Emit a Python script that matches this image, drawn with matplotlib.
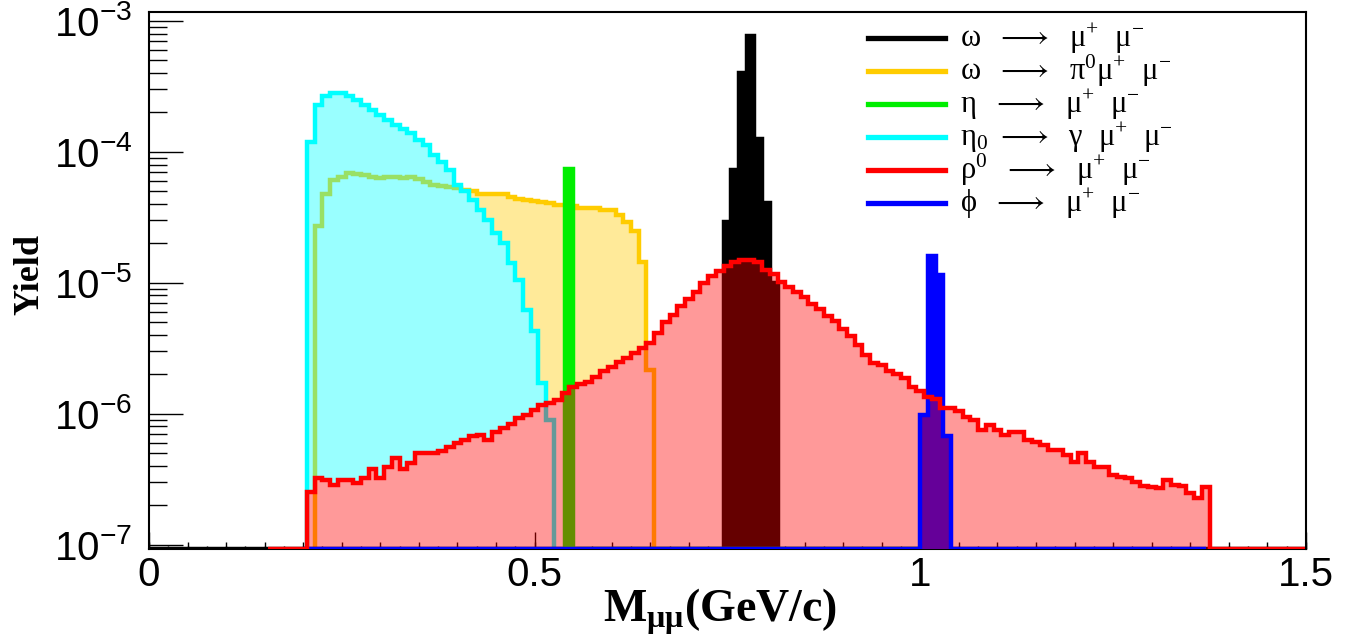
import numpy as np
import matplotlib
matplotlib.use('Agg')
import matplotlib.pyplot as plt

plt.rcParams['mathtext.fontset'] = 'custom'
plt.rcParams['mathtext.rm'] = 'Liberation Serif'
plt.rcParams['mathtext.it'] = 'Liberation Serif'
plt.rcParams['mathtext.bf'] = 'Liberation Serif:bold'
plt.rcParams['mathtext.sf'] = 'Liberation Sans'

BIN = 0.01
YMIN, YMAX = 0.93e-7, 1.17e-3

# each histogram: first bin edge, bin contents, and the axis range it was booked on
omega_mm_start = 0.745
omega_mm = [2.9e-5, 7.3e-5, 4.0e-4, 7.7e-4, 1.26e-4, 4.1e-5, 1.0e-5]
omega_mm_range = (-0.005, 1.505)

omega_pi0_start = 0.215
omega_pi0 = [2.7e-5, 4.8e-5, 6.1e-5, 6.45e-5, 6.9e-5, 6.8e-5, 6.7e-5, 6.45e-5, 6.3e-5, 6.4e-5,
             6.4e-5, 6.3e-5, 6.45e-5, 6.2e-5, 5.9e-5, 5.6e-5, 5.5e-5, 5.4e-5, 5.3e-5, 5.1e-5,
             5.0e-5, 4.8e-5, 4.75e-5, 4.8e-5, 4.8e-5, 4.5e-5, 4.4e-5, 4.3e-5, 4.2e-5, 4.15e-5,
             4.1e-5, 3.9e-5, 3.9e-5, 3.85e-5, 3.75e-5, 3.7e-5, 3.7e-5, 3.6e-5, 3.6e-5, 3.3e-5,
             2.9e-5, 2.5e-5, 1.44e-5, 2.15e-6]
omega_pi0_range = (0.215, 0.655)

eta_mm_start = 0.54
eta_mm = [7.4e-5]
eta_mm_range = (0.54, 1.04)

eta_gamma_start = 0.205
eta_gamma = [1.2e-4, 2.3e-4, 2.65e-4, 2.8e-4, 2.8e-4, 2.67e-4, 2.5e-4, 2.3e-4, 2.1e-4, 1.91e-4,
             1.75e-4, 1.6e-4, 1.5e-4, 1.39e-4, 1.23e-4, 1.13e-4, 9.5e-5, 8.4e-5, 7.3e-5, 5.6e-5,
             5.0e-5, 4.3e-5, 3.6e-5, 3.0e-5, 2.4e-5, 2.0e-5, 1.41e-5, 1.05e-5, 6.2e-6, 4.3e-6,
             1.7e-6, 9e-7]
eta_gamma_range = (0.205, 0.525)

rho_start = 0.205
rho = [2.5e-7, 3.2e-7, 3.1e-7, 2.85e-7, 3.1e-7, 3.1e-7, 2.95e-7, 3.2e-7, 3.8e-7, 3.2e-7,
       3.9e-7, 4.55e-7, 3.8e-7, 4.2e-7, 5.0e-7, 5.0e-7, 5.0e-7, 5.2e-7, 5.6e-7, 6.0e-7,
       6.3e-7, 6.7e-7, 6.9e-7, 6.3e-7, 7.3e-7, 7.75e-7, 8.3e-7, 9.2e-7, 9.8e-7, 1.07e-6,
       1.17e-6, 1.2e-6, 1.28e-6, 1.45e-6, 1.61e-6, 1.68e-6, 1.76e-6, 1.92e-6, 2.1e-6, 2.28e-6,
       2.5e-6, 2.65e-6, 2.9e-6, 3.15e-6, 3.45e-6, 4.1e-6, 5.0e-6, 5.7e-6, 6.6e-6, 7.5e-6,
       8.5e-6, 9.9e-6, 1.12e-5, 1.23e-5, 1.34e-5, 1.43e-5, 1.48e-5, 1.48e-5, 1.43e-5, 1.26e-5,
       1.16e-5, 1.02e-5, 9.3e-6, 8.5e-6, 7.8e-6, 6.9e-6, 6.3e-6, 5.6e-6, 5.1e-6, 4.4e-6,
       3.9e-6, 3.35e-6, 2.8e-6, 2.43e-6, 2.35e-6, 2.1e-6, 2.0e-6, 1.86e-6, 1.6e-6, 1.5e-6,
       1.35e-6, 1.3e-6, 1.1e-6, 1.1e-6, 1.05e-6, 9.5e-7, 8.9e-7, 7.5e-7, 8.2e-7, 7.5e-7,
       6.9e-7, 7.3e-7, 7.3e-7, 6.3e-7, 6.1e-7, 5.75e-7, 5.3e-7, 5.3e-7, 4.85e-7, 4.3e-7,
       5.0e-7, 4.3e-7, 3.9e-7, 3.9e-7, 3.4e-7, 3.3e-7, 3.2e-7, 3.0e-7, 2.8e-7, 2.75e-7,
       2.7e-7, 3.1e-7, 2.85e-7, 2.8e-7, 2.47e-7, 2.26e-7, 2.77e-7]
rho_range = (0.155, 1.505)

phi_start = 1.0
phi = [9.8e-7, 1.6e-5, 1.15e-5, 6.7e-7]
phi_range = (0.2, 1.37)

labels = [r'$\mathrm{\omega}\ \ \longrightarrow\ \ \mathrm{\mu}^{+}\ \ \mathrm{\mu}^{-}$',
          r'$\mathrm{\omega}\ \ \longrightarrow\ \ \mathrm{\pi}^{0}\mathrm{\mu}^{+}\ \ \mathrm{\mu}^{-}$',
          r'$\mathrm{\eta}\ \ \longrightarrow\ \ \mathrm{\mu}^{+}\ \ \mathrm{\mu}^{-}$',
          r'$\mathrm{\eta}_{0}\ \longrightarrow\ \ \mathrm{\gamma}\ \ \mathrm{\mu}^{+}\ \ \mathrm{\mu}^{-}$',
          r'$\mathrm{\rho}^{0}\ \ \longrightarrow\ \ \mathrm{\mu}^{+}\ \ \mathrm{\mu}^{-}$',
          r'$\mathrm{\phi}\ \ \longrightarrow\ \ \mathrm{\mu}^{+}\ \ \mathrm{\mu}^{-}$']
colors = ['black', '#ffcc00', '#00ee00', '#00ffff', '#ff0000', '#0000ff']

xticks = [0, 0.5, 1, 1.5]
yticks = [1e-7, 1e-6, 1e-5, 1e-4, 1e-3]


def binned(start, vals, rng):
    lo, hi = rng
    n0 = int(round((start - lo) / BIN))
    n1 = int(round((hi - start) / BIN)) - len(vals)
    v = np.concatenate([np.zeros(n0), vals, np.zeros(max(n1, 0))])
    e = start - n0 * BIN + BIN * np.arange(len(v) + 1)
    return e, np.where(v > 0, v, YMIN)


def lookup(e, v, x):
    i = np.searchsorted(e, x) - 1
    ok = (i >= 0) & (i < len(v))
    return np.where(ok, v[np.clip(i, 0, len(v) - 1)], YMIN)


e_om, v_om = binned(omega_mm_start, omega_mm, omega_mm_range)
e_op, v_op = binned(omega_pi0_start, omega_pi0, omega_pi0_range)
e_em, v_em = binned(eta_mm_start, eta_mm, eta_mm_range)
e_eg, v_eg = binned(eta_gamma_start, eta_gamma, eta_gamma_range)
e_rh, v_rh = binned(rho_start, rho, rho_range)
e_ph, v_ph = binned(phi_start, phi, phi_range)

W, H = 1354, 635
fig = plt.figure(figsize=(W / 100, H / 100), dpi=100)
ax = fig.add_axes([0.110, 0.136, 0.8545, 0.845])
ax.set_yscale('log')
ax.set_xlim(0, 1.5)
ax.set_ylim(YMIN, YMAX)
ax.set_axisbelow(True)

LW = 3.2
A = 0.4

# omega -> pi0 mu mu, filled only where it sticks out above eta dalitz / rho
c_op = 0.5 * (e_op[1:] + e_op[:-1])
base_op = np.minimum(np.maximum(lookup(e_rh, v_rh, c_op), lookup(e_eg, v_eg, c_op)), v_op)
ax.stairs(v_op, e_op, baseline=base_op, fill=True, color=colors[1], alpha=A, lw=0, zorder=1.0)
ax.stairs(v_op, e_op, baseline=YMIN, color=colors[1], lw=LW, zorder=1.1)

c_eg = 0.5 * (e_eg[1:] + e_eg[:-1])
base_eg = np.minimum(lookup(e_rh, v_rh, c_eg), v_eg)
ax.stairs(v_eg, e_eg, baseline=base_eg, fill=True, color=colors[3], alpha=A, lw=0, zorder=1.2)
ax.stairs(v_eg, e_eg, baseline=YMIN, color=colors[3], lw=LW, zorder=1.3)

# solid peaks
ax.stairs(v_om, e_om, baseline=YMIN, fill=True, color=colors[0], lw=0, zorder=1.4)
ax.stairs(v_om, e_om, baseline=YMIN, color=colors[0], lw=LW, zorder=1.45)
ax.stairs(v_em, e_em, baseline=YMIN, fill=True, color=colors[2], lw=0, zorder=1.5)
ax.stairs(v_em, e_em, baseline=YMIN, color=colors[2], lw=LW, zorder=1.55)
ax.stairs(v_ph, e_ph, baseline=YMIN, fill=True, color=colors[5], lw=0, zorder=1.6)

# rho on top, semi transparent
ax.stairs(v_rh, e_rh, baseline=YMIN, fill=True, color=colors[4], alpha=A, lw=0, zorder=2.0)
ax.stairs(v_ph, e_ph, baseline=YMIN, color=colors[5], lw=LW, zorder=2.05)
ax.stairs(v_rh, e_rh, baseline=YMIN, color=colors[4], lw=LW, zorder=2.1)

# axes cosmetics
ax.set_xticks(xticks)
ax.set_xticklabels(['%g' % t for t in xticks], fontfamily='Liberation Sans')
ax.set_xticks(np.arange(0, 1.5001, 0.025), minor=True)
ax.set_yticks(yticks)
ax.set_yticklabels([r'$\mathsf{10^{%d}}$' % int(round(np.log10(t))) for t in yticks])
ax.tick_params(axis='x', which='major', direction='in', length=12, width=1, labelsize=29, pad=5)
ax.tick_params(axis='x', which='minor', direction='in', length=2.5, width=1)
ax.tick_params(axis='y', which='major', direction='in', length=24.5, width=1, labelsize=29, pad=12)
ax.tick_params(axis='y', which='minor', direction='in', length=13, width=1)
for s in ax.spines.values():
    s.set_linewidth(1.5)
ax.spines['bottom'].set_zorder(0.6)

sec = ax.secondary_xaxis('bottom')
sec.set_xticks(np.arange(0, 1.5001, 0.05))
sec.tick_params(direction='in', length=5, width=1, labelbottom=False)
sec.spines['bottom'].set_visible(False)

ax.set_ylabel('Yield', fontfamily='Liberation Serif', fontweight='bold', fontsize=26)
ax.yaxis.set_label_coords(-0.089, 0.51)
ax.set_xlabel(r'$\mathbf{M_{\mu\mu}}$(GeV/c)', fontfamily='Liberation Serif',
              fontweight='bold', fontsize=33)
ax.xaxis.set_label_coords(0.4935, -0.071)

# legend drawn row by row (ROOT TLegend style, no frame)
for i, (c, lab) in enumerate(zip(colors, labels)):
    y = 38 + 33 * i
    fig.add_artist(plt.Line2D([868 / W, 945 / W], [1 - y / H, 1 - y / H], color=c, lw=3.8))
    fig.text(960 / W, 1 - (y + 9) / H, lab, fontsize=22, va='baseline', ha='left')

fig.savefig('out.png', dpi=100)
